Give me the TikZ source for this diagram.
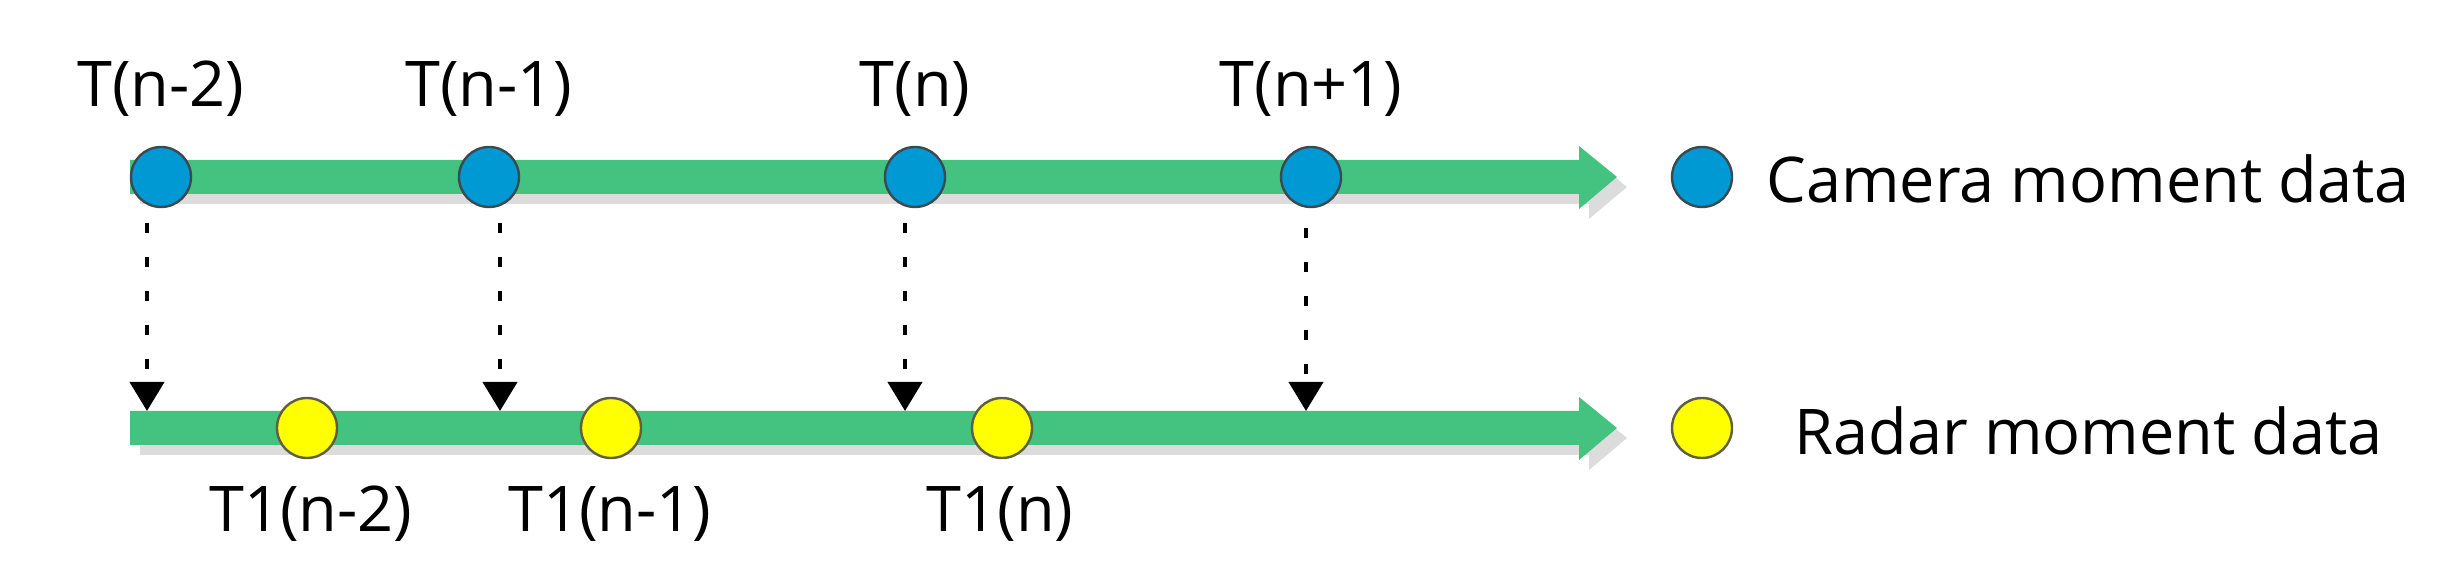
\documentclass[tikz,border=0pt]{standalone}
\usepackage{fontspec}
\setmainfont{Open Sans}
\usetikzlibrary{arrows.meta}
\definecolor{bargreen}{HTML}{44C27F}
\definecolor{shadowgray}{HTML}{DCDCDC}
\definecolor{camblue}{HTML}{0099D4}
\definecolor{radyellow}{HTML}{FFFF00}
\definecolor{rimgray}{HTML}{3A4A50}
\definecolor{rimolive}{HTML}{5E5E40}
\tikzset{
  camdot/.style={circle, draw=rimgray, line width=1.2pt, fill=camblue, minimum size=30pt, inner sep=0pt},
  raddot/.style={circle, draw=rimolive, line width=1.2pt, fill=radyellow, minimum size=30pt, inner sep=0pt},
  lbl/.style={font=\fontsize{31.5}{38}\selectfont, inner sep=0pt, anchor=base},
  leg/.style={font=\fontsize{31.5}{38}\selectfont, inner sep=0pt, anchor=base west},
  syncline/.style={line width=2pt, dash pattern=on 5pt off 12pt, -{Triangle[length=14.5pt,width=17pt]}},
}
\begin{document}
\begin{tikzpicture}[x=0.5pt,y=-0.5pt]
\useasboundingbox (0,0) rectangle (2442,582);
% top time axis (shadow then bar)
\fill[shadowgray] (140,170) -- (1589,170) -- (1589,156) -- (1627,187) -- (1589,219) -- (1589,204) -- (140,204) -- cycle;
\fill[bargreen] (130,160) -- (1579,160) -- (1579,146) -- (1617,177) -- (1579,209) -- (1579,194) -- (130,194) -- cycle;
% bottom time axis
\fill[shadowgray] (140,421) -- (1589,421) -- (1589,407) -- (1627,438) -- (1589,470) -- (1589,455) -- (140,455) -- cycle;
\fill[bargreen] (130,411) -- (1579,411) -- (1579,397) -- (1617,428) -- (1579,460) -- (1579,445) -- (130,445) -- cycle;
% camera moments
\node[camdot] (c1) at (161,177) {};
\node[camdot] (c2) at (489,177) {};
\node[camdot] (c3) at (915,177) {};
\node[camdot] (c4) at (1311,177) {};
\node[lbl] (lc1) at (161,107) {T(n-2)};
\node[lbl] (lc2) at (489,107) {T(n-1)};
\node[lbl] (lc3) at (915,107) {T(n)};
\node[lbl] (lc4) at (1311,107) {T(n+1)};
% radar moments
\node[raddot] (r1) at (307,428) {};
\node[raddot] (r2) at (611,428) {};
\node[raddot] (r3) at (1002,428) {};
\node[lbl] (lr1) at (311,531) {T1(n-2)};
\node[lbl] (lr2) at (610,531) {T1(n-1)};
\node[lbl] (lr3) at (1000,531) {T1(n)};
% sync arrows
\coordinate (s1) at (147,223); \coordinate (e1) at (147,411);
\coordinate (s2) at (500,223); \coordinate (e2) at (500,411);
\coordinate (s3) at (905,223); \coordinate (e3) at (905,411);
\coordinate (s4) at (1306,228); \coordinate (e4) at (1306,411);
\draw[syncline] (s1) -- (e1);
\draw[syncline] (s2) -- (e2);
\draw[syncline] (s3) -- (e3);
\draw[syncline] (s4) -- (e4);
% legend
\node[camdot] (legc) at (1702,177) {};
\node[leg] (legct) at (1766,203) {Camera moment data};
\node[raddot] (legr) at (1702,428) {};
\node[leg] (legrt) at (1794,455) {Radar moment data};
\end{tikzpicture}
\end{document}
